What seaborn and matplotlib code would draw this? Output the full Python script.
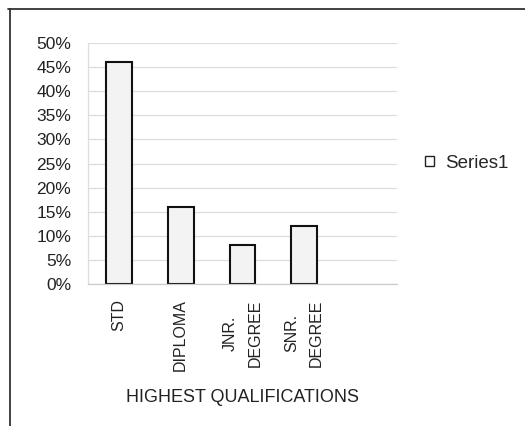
import matplotlib
matplotlib.use("Agg")
import matplotlib.pyplot as plt
import seaborn as sns
import pandas as pd
from matplotlib.lines import Line2D
from matplotlib.patches import Patch

categories = ["STD", "DIPLOMA", "JNR.\nDEGREE", "SNR.\nDEGREE"]
values = [46, 16, 8, 12]
series_name = "Series1"
y_ticks = [0, 5, 10, 15, 20, 25, 30, 35, 40, 45, 50]

df = pd.DataFrame({"qual": categories, "pct": values})

sns.set_theme(style="white")
plt.rcParams["font.family"] = ["Liberation Sans", "DejaVu Sans"]

fig = plt.figure(figsize=(5.25, 4.26), dpi=100)
ax = fig.add_axes([88 / 525, 1 - 284 / 426, (397 - 88) / 525, (284 - 43) / 426])

sns.barplot(data=df, x="qual", y="pct", ax=ax, width=0.42,
            color="#f3f3f3", edgecolor="#111111", linewidth=1.5, saturation=1)

ax.set_xlim(-0.5, 4.5)
ax.set_ylim(0, 50)
ax.set_yticks(y_ticks)
ax.set_yticklabels([f"{t}%" for t in y_ticks], fontsize=12.5, color="#222222")
ax.tick_params(axis="y", length=0, pad=12)
ax.tick_params(axis="x", length=0, pad=11)
ax.set_xticks(range(len(categories)))
ax.set_xticklabels(categories, rotation=90, fontsize=11.5, color="#222222",
                   va="top", ha="center", multialignment="center",
                   linespacing=1.8)
ax.set_xlabel("HIGHEST QUALIFICATIONS", fontsize=13, color="#222222", labelpad=13)
ax.set_ylabel("")

ax.yaxis.grid(True, color="#dddddd", linewidth=0.9)
ax.set_axisbelow(True)
for side in ["top", "right"]:
    ax.spines[side].set_visible(False)
ax.spines["left"].set_color("#dddddd")
ax.spines["bottom"].set_color("#cccccc")
ax.spines["left"].set_linewidth(0.9)
ax.spines["bottom"].set_linewidth(0.9)

handle = Patch(facecolor="white", edgecolor="#222222", linewidth=1.0)
fig.legend([handle], [series_name], loc="center left",
           bbox_to_anchor=(408 / 525, 1 - 163 / 426), frameon=False,
           fontsize=13.5, handlelength=0.5, handleheight=0.5, handletextpad=0.6)

# Outer frame lines along the top and left edges
fig.add_artist(Line2D([8 / 525, 1], [1 - 9 / 426, 1 - 9 / 426],
                      transform=fig.transFigure, color="#333333", linewidth=1.3))
fig.add_artist(Line2D([10 / 525, 10 / 525], [0, 1 - 9 / 426],
                      transform=fig.transFigure, color="#333333", linewidth=1.3))

fig.savefig("out.png", dpi=100, facecolor="white")
